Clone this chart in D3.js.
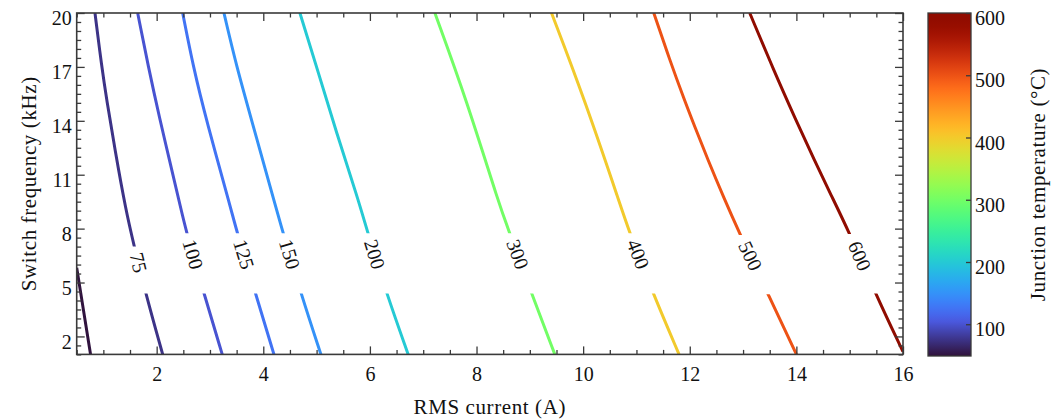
<!DOCTYPE html>
<html lang="en">
<head>
<meta charset="UTF-8">
<title>Junction temperature contours</title>
<script src="https://d3js.org/d3.v7.min.js"></script>
<style>
  body { margin: 0; background: #fff; }
  svg text { font-family: 'Liberation Serif', 'DejaVu Serif', serif; fill: #111; }
</style>
</head>
<body>
<svg id="chart" width="1064" height="419"></svg>
<script>
// --- Data ---
// contour levels (°C) and the points of each line: [RMS current (A), switch frequency (kHz)]
const levels = [50, 75, 100, 125, 150, 200, 300, 400, 500, 600];
const contourLines = [
  [[0.5, 5.82], [0.63, 3.4], [0.76, 1.0]],
  [[0.843, 20], [0.969, 17.01], [1.063, 15.16], [1.218, 12.38], [1.42, 9.04], [1.58, 7.0], [1.794, 4.39], [2.113, 1.0]],
  [[1.644, 20], [1.843, 17.01], [2.062, 14.05], [2.24, 11.82], [2.46, 9.04], [2.563, 7.74], [2.887, 4.39], [3.23, 1.0]],
  [[2.488, 20], [2.686, 17.01], [2.93, 14.05], [3.4, 9.04], [3.511, 7.74], [3.856, 4.39], [4.2, 1.0]],
  [[3.262, 20], [3.5, 17.01], [3.78, 14.05], [4.25, 9.04], [4.374, 7.74], [4.706, 4.39], [5.081, 1.0]],
  [[4.687, 20], [5.0, 17.01], [5.375, 13.31], [5.784, 9.6], [5.962, 7.74], [6.313, 4.39], [6.718, 1.0]],
  [[7.219, 20], [7.813, 15.16], [8.437, 9.22], [8.625, 7.74], [9.032, 4.39], [9.469, 1.0]],
  [[9.407, 20], [10.031, 15.16], [10.719, 9.13], [10.875, 7.74], [11.312, 4.39], [11.799, 1.0]],
  [[11.325, 20], [11.625, 17.38], [11.899, 15.16], [12.094, 13.67], [12.341, 11.82], [12.63, 9.78], [12.956, 7.59], [13.468, 4.35], [14.001, 1.0]],
  [[13.125, 20], [13.573, 16.83], [13.99, 14.05], [14.335, 11.82], [14.665, 9.78], [15.0, 7.74], [15.482, 4.39], [15.969, 1.34], [16.0, 1.15]]
];
// inline labels: frequency of label centre and the gap cut out of the line
const labelFreqs = [null, 6.11, 6.57, 6.57, 6.57, 6.57, 6.57, 6.57, 6.48, 6.48];
const gapLow = [null, 4.39, 4.39, 4.39, 4.39, 4.39, 4.39, 4.39, 4.35, 4.39];
const gapHigh = [null, 7.0, 7.74, 7.74, 7.74, 7.74, 7.74, 7.74, 7.65, 7.7];

const xTicks = [2, 4, 6, 8, 10, 12, 14, 16];
const yTicks = [2, 5, 8, 11, 14, 17, 20];
const cbarTicks = [100, 200, 300, 400, 500, 600];
const tempRange = [49, 600];

// --- Layout ---
const svg = d3.select("#chart");
const plot = { left: 76.7, right: 903, top: 13, bottom: 354.4 };
const cbar = { left: 928, right: 971, top: 13, bottom: 356 };
const frameColor = "#3a3a3a";

const x = d3.scaleLinear().domain([0.5, 16]).range([plot.left, plot.right]);
const y = d3.scaleLinear().domain([1, 20]).range([plot.bottom, plot.top]);
const cy = d3.scaleLinear().domain(tempRange).range([cbar.bottom, cbar.top]);

// matplotlib-like turbo: d3 turbo with a purple low end
function turbo(t) {
  return t < 0.1 ? d3.interpolateRgb("#30123b", d3.interpolateTurbo(0.1))(t / 0.1) : d3.interpolateTurbo(t);
}
const norm = d3.scaleLinear().domain(tempRange).range([0, 1]).clamp(true);
const color = v => turbo(norm(v));

const defs = svg.append("defs");

// --- Contour lines ---
// basis curve smooths out the reading error of the points
const line = d3.line().x(d => x(d[0])).y(d => y(d[1])).curve(d3.curveBasis);
const plotW = plot.right - plot.left;

const outer = defs.append("clipPath").attr("id", "plot-clip");
outer.append("rect").attr("x", plot.left).attr("y", plot.top)
  .attr("width", plotW).attr("height", plot.bottom - plot.top);

const linesG = svg.append("g").attr("clip-path", "url(#plot-clip)");

levels.forEach((lev, i) => {
  const cp = defs.append("clipPath").attr("id", `gap-${i}`);
  if (gapLow[i] === null) {
    cp.append("rect").attr("x", plot.left).attr("y", plot.top)
      .attr("width", plotW).attr("height", plot.bottom - plot.top);
  } else {
    cp.append("rect").attr("x", plot.left).attr("y", plot.top)
      .attr("width", plotW).attr("height", y(gapHigh[i]) - plot.top);
    cp.append("rect").attr("x", plot.left).attr("y", y(gapLow[i]))
      .attr("width", plotW).attr("height", plot.bottom - y(gapLow[i]));
  }
  linesG.append("path")
    .datum(contourLines[i])
    .attr("clip-path", `url(#gap-${i})`)
    .attr("d", line)
    .attr("fill", "none")
    .attr("stroke", color(lev))
    .attr("stroke-width", 3);

  if (labelFreqs[i] === null) return;
  // place the label on the line, rotated along it
  const pts = contourLines[i];
  const f = labelFreqs[i];
  let k = 0;
  while (k < pts.length - 2 && pts[k + 1][1] > f) k++;
  const a = pts[k], b = pts[k + 1];
  const t = (a[1] - f) / (a[1] - b[1]);
  const lx = x(a[0] + t * (b[0] - a[0])), ly = y(f);
  const ang = Math.atan2(y(b[1]) - y(a[1]), x(b[0]) - x(a[0])) * 180 / Math.PI;
  svg.append("text")
    .attr("transform", `translate(${lx},${ly}) rotate(${ang})`)
    .attr("text-anchor", "middle")
    .attr("dy", "0.33em")
    .style("font-size", "20px")
    .text(lev);
});

// --- Axes (ticks inward on all four sides) ---
const minorX = d3.range(0.5, 16.01, 0.5).filter(v => !xTicks.includes(v));
const minorY = d3.range(1, 20.01, 0.5).filter(v => !yTicks.includes(v));

function styleAxis(g) {
  g.select(".domain").remove();
  g.selectAll(".tick line").attr("stroke", frameColor).attr("stroke-width", 1.3);
  g.selectAll(".tick text").style("font-size", "20px").attr("fill", "#111")
    .style("font-family", "'Liberation Serif', 'DejaVu Serif', serif");
}

svg.append("g").attr("transform", `translate(0,${plot.bottom})`)
  .call(d3.axisBottom(x).tickValues(xTicks).tickSize(-8).tickPadding(12).tickFormat(d3.format("d")))
  .call(styleAxis);
svg.append("g").attr("transform", `translate(0,${plot.bottom})`)
  .call(d3.axisBottom(x).tickValues(minorX).tickSize(-4.5).tickFormat(""))
  .call(styleAxis);
svg.append("g").attr("transform", `translate(0,${plot.top})`)
  .call(d3.axisTop(x).tickValues(xTicks).tickSize(-8).tickFormat(""))
  .call(styleAxis);
svg.append("g").attr("transform", `translate(0,${plot.top})`)
  .call(d3.axisTop(x).tickValues(minorX).tickSize(-4.5).tickFormat(""))
  .call(styleAxis);

const yAxisG = svg.append("g").attr("transform", `translate(${plot.left},0)`)
  .call(d3.axisLeft(y).tickValues(yTicks).tickSize(-8).tickPadding(5).tickFormat(d3.format("d")))
  .call(styleAxis);
yAxisG.selectAll(".tick text").attr("dy", "0.58em");
svg.append("g").attr("transform", `translate(${plot.left},0)`)
  .call(d3.axisLeft(y).tickValues(minorY).tickSize(-4.5).tickFormat(""))
  .call(styleAxis);
svg.append("g").attr("transform", `translate(${plot.right},0)`)
  .call(d3.axisRight(y).tickValues(yTicks).tickSize(-8).tickFormat(""))
  .call(styleAxis);
svg.append("g").attr("transform", `translate(${plot.right},0)`)
  .call(d3.axisRight(y).tickValues(minorY).tickSize(-4.5).tickFormat(""))
  .call(styleAxis);

svg.append("rect")
  .attr("x", plot.left).attr("y", plot.top)
  .attr("width", plotW).attr("height", plot.bottom - plot.top)
  .attr("fill", "none").attr("stroke", frameColor).attr("stroke-width", 1.6);

svg.append("text")
  .attr("x", (plot.left + plot.right) / 2).attr("y", 414)
  .attr("text-anchor", "middle")
  .style("font-size", "21px").style("letter-spacing", "0.6px")
  .text("RMS current (A)");

svg.append("text")
  .attr("transform", `translate(36,${(plot.top + plot.bottom) / 2}) rotate(-90)`)
  .attr("text-anchor", "middle")
  .style("font-size", "21px").style("letter-spacing", "0.6px")
  .text("Switch frequency (kHz)");

// --- Colour bar ---
const grad = defs.append("linearGradient").attr("id", "cbar-grad")
  .attr("x1", 0).attr("y1", 1).attr("x2", 0).attr("y2", 0);
d3.range(0, 1.0001, 0.02).forEach(s => {
  grad.append("stop").attr("offset", s).attr("stop-color", turbo(s));
});

svg.append("rect")
  .attr("x", cbar.left).attr("y", cbar.top)
  .attr("width", cbar.right - cbar.left).attr("height", cbar.bottom - cbar.top)
  .attr("fill", "url(#cbar-grad)")
  .attr("stroke", frameColor).attr("stroke-width", 1.3);

const cAxisG = svg.append("g").attr("transform", `translate(${cbar.right},0)`)
  .call(d3.axisRight(cy).tickValues(cbarTicks).tickSize(-5).tickPadding(4).tickFormat(d3.format("d")))
  .call(styleAxis);
cAxisG.selectAll(".tick text").attr("dy", "0.58em");

svg.append("text")
  .attr("transform", `translate(1045,${(cbar.top + cbar.bottom) / 2}) rotate(-90)`)
  .attr("text-anchor", "middle")
  .style("font-size", "21px").style("letter-spacing", "0.6px")
  .text("Junction temperature (°C)");
</script>
</body>
</html>
